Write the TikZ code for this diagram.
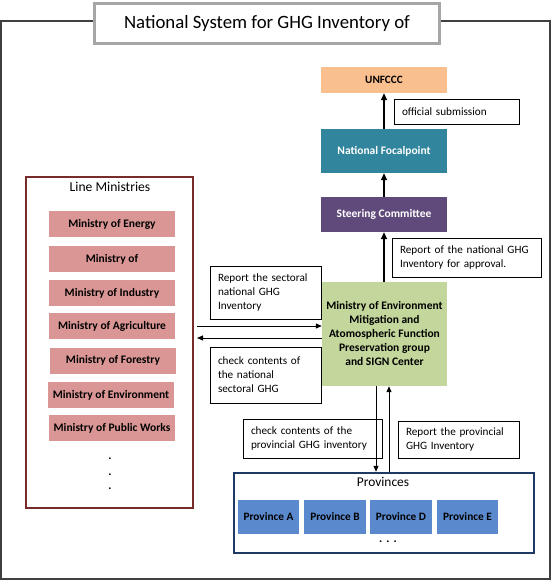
\documentclass[tikz,border=0pt]{standalone}
\usepackage{fontspec}
\setmainfont{Carlito}
\usetikzlibrary{arrows.meta}
\definecolor{cOrange}{HTML}{F9BF8F}
\definecolor{cTeal}{HTML}{31859C}
\definecolor{cPurple}{HTML}{604A7B}
\definecolor{cGreen}{HTML}{C3D69B}
\definecolor{cPink}{HTML}{D99694}
\definecolor{cBlue}{HTML}{5A8ACD}
\definecolor{cNavy}{HTML}{1F3864}
\definecolor{cWine}{HTML}{772C2A}
\definecolor{cFrame}{HTML}{404040}
\definecolor{cTitle}{HTML}{A6A6A6}
\begin{document}
\begin{tikzpicture}[x=1pt,y=-1pt,
  box/.style={draw=none,inner sep=0pt,align=center,font=\fontsize{11.5}{14}\selectfont\bfseries},
  minbox/.style={box,fill=cPink,minimum width=126pt,minimum height=26pt},
  provbox/.style={box,fill=cBlue,minimum width=61pt,minimum height=34pt,font=\fontsize{11.3}{13}\selectfont\bfseries},
  note/.style={draw=black,line width=0.9pt,fill=white,inner xsep=8pt,inner ysep=2pt,align=left,font=\fontsize{11.2}{14}\selectfont},
  thickarrow/.style={line width=2pt,-{Triangle[length=7pt,width=6pt]}},
  thinarrow/.style={line width=1pt,-{Triangle[length=6pt,width=5pt]}},
  dotlabel/.style={inner sep=0pt,anchor=base,font=\fontsize{12}{12}\selectfont\bfseries}
]
\useasboundingbox (0,0) rectangle (552,580);
% outer frame
\draw[cFrame,line width=1.6pt] (1,21) rectangle (550,579);
\node[draw=cTitle,line width=3pt,fill=white,minimum width=345pt,minimum height=40pt,inner sep=0pt,font=\fontsize{18.8}{20}\selectfont] (title) at (267,23.5) {National System for GHG Inventory of};

% right column
\node[box,fill=cOrange,minimum width=126pt,minimum height=26pt,font=\fontsize{11.2}{13}\selectfont\bfseries] (unfccc) at (384,80) {UNFCCC};
\node[box,fill=cTeal,text=white,minimum width=126pt,minimum height=44pt] (focal) at (384,151) {National Focalpoint};
\node[box,fill=cPurple,text=white,minimum width=126pt,minimum height=35pt] (steer) at (384,214.5) {Steering Committee};
\node[box,fill=cGreen,minimum width=125pt,minimum height=104pt] (green) at (384.5,334) {Ministry of Environment\\Mitigation  and\\Atomospheric Function\\Preservation group\\and SIGN Center};

\node[note,text width=109pt,minimum height=25pt] (offsub) at (456.5,111.5) {official submission};
\node[note,text width=133pt,minimum height=39pt] (repnat) at (466.5,257.5) {Report of the national GHG\\Inventory for approval.};
\node[note,text width=95pt,minimum height=53pt] (repsec) at (265.5,292.5) {Report the sectoral\\national GHG\\Inventory};
\node[note,text width=95pt,minimum height=56pt] (chknat) at (265.5,375) {check contents of\\the national\\sectoral GHG};
\node[note,text width=123pt,minimum height=39pt] (chkprov) at (312.5,438.5) {check contents of the\\provincial GHG inventory};
\node[note,text width=105pt,minimum height=37pt] (repprov) at (458.5,439.5) {Report the provincial\\GHG Inventory};

\draw[thickarrow] (focal.north) -- (unfccc.south);
\draw[thickarrow] (steer.north) -- (focal.south);
\draw[thickarrow] (green.north -| steer.south) -- (steer.south);

% line ministries
\node[draw=cWine,line width=2pt,minimum width=167pt,minimum height=331pt,inner sep=0pt] (lm) at (109.5,342.5) {};
\node[inner sep=0pt,font=\fontsize{13.6}{15}\selectfont] (lmtitle) at (110,187) {Line Ministries};
\node[minbox] (m1) at (112,224) {Ministry of Energy};
\node[minbox] (m2) at (112,259) {Ministry of};
\node[minbox] (m3) at (112,293) {Ministry of Industry};
\node[minbox] (m4) at (112,326) {Ministry of Agriculture};
\node[minbox] (m5) at (113,360.5) {Ministry of Forestry};
\node[minbox] (m6) at (111,395) {Ministry of Environment};
\node[minbox] (m7) at (112,428) {Ministry of Public Works};
\node[dotlabel] (d1) at (110,459.5) {.};
\node[dotlabel] (d2) at (110,475.5) {.};
\node[dotlabel] (d3) at (110,489.5) {.};

\coordinate (lmr1) at (197,326);
\coordinate (lmr2) at (197,338);
\draw[thinarrow] (lmr1) -- (green.west |- lmr1);
\draw[thinarrow] (green.west |- lmr2) -- (lmr2);

% provinces
\node[draw=cNavy,line width=2.5pt,minimum width=300pt,minimum height=80pt,inner sep=0pt] (prov) at (384,513) {};
\node[inner sep=0pt,font=\fontsize{13.4}{15}\selectfont] (provtitle) at (383,482) {Provinces};
\node[provbox] (pa) at (268.5,517) {Province A};
\node[provbox,minimum width=62pt] (pb) at (335,517) {Province B};
\node[provbox,minimum width=62pt] (pd) at (401,516.5) {Province D};
\node[provbox,minimum width=61pt] (pe) at (467.5,516.5) {Province E};
\node[dotlabel] (pdots) at (388,542.5) {.\,\,.\,\,.};

\draw[thinarrow] (green.south -| 376,0) -- (prov.north -| 376,0);
\draw[thinarrow] (prov.north -| 389,0) -- (green.south -| 389,0);
\end{tikzpicture}
\end{document}
